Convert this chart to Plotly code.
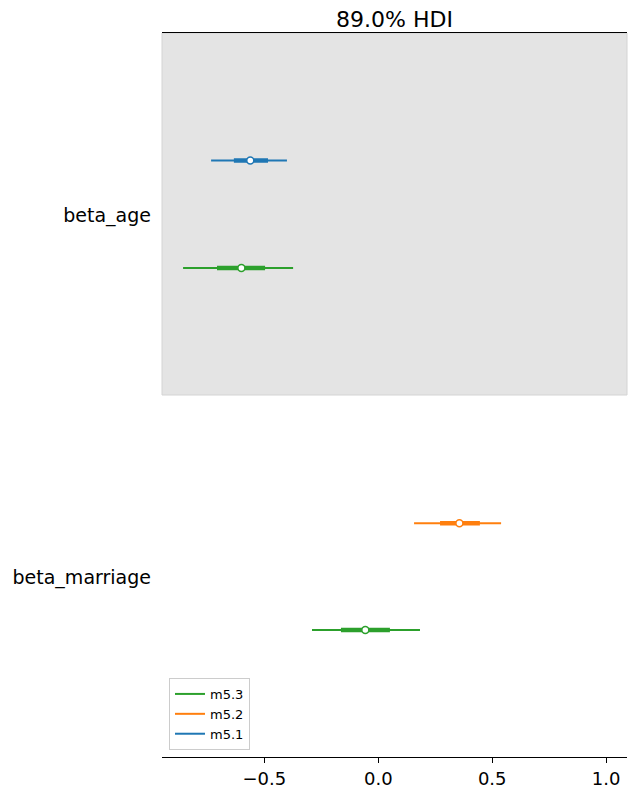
import plotly.graph_objects as go

# ---- data ----
variables = ["beta_age", "beta_marriage"]
models = ["m5.1", "m5.2", "m5.3"]
model_colors = {"m5.1": "#1f77b4", "m5.2": "#ff7f0e", "m5.3": "#2ca02c"}

# rows: (model, variable, row offset within variable group)
row_models = ["m5.1", "m5.3", "m5.2", "m5.3"]
row_vars = ["beta_age", "beta_age", "beta_marriage", "beta_marriage"]
row_offsets = [-0.148, 0.149, -0.146, 0.149]
hdi_low = [-0.734, -0.857, 0.157, -0.291]
hdi_high = [-0.401, -0.374, 0.539, 0.183]
iqr_low = [-0.634, -0.708, 0.271, -0.164]
iqr_high = [-0.484, -0.497, 0.446, 0.051]
point_est = [-0.562, -0.601, 0.356, -0.057]

xtick_vals = [-0.5, 0.0, 0.5, 1.0]
xtick_text = ["\u22120.5", "0.0", "0.5", "1.0"]

fig = go.Figure()

var_pos = {v: i for i, v in enumerate(variables)}

for m, v, off, lo, hi, qlo, qhi, pt in zip(row_models, row_vars, row_offsets,
                                          hdi_low, hdi_high, iqr_low, iqr_high, point_est):
    y = var_pos[v] + off
    c = model_colors[m]
    fig.add_trace(go.Scatter(x=[lo, hi], y=[y, y], mode="lines",
                             line=dict(color=c, width=2), showlegend=False, hoverinfo="skip"))
    fig.add_trace(go.Scatter(x=[qlo, qhi], y=[y, y], mode="lines",
                             line=dict(color=c, width=4.5), showlegend=False, hoverinfo="skip"))
    fig.add_trace(go.Scatter(x=[pt], y=[y], mode="markers",
                             marker=dict(color="white", size=7, line=dict(color=c, width=1.5)),
                             showlegend=False, hoverinfo="skip"))

# legend entries
for m in ["m5.3", "m5.2", "m5.1"]:
    fig.add_trace(go.Scatter(x=[None], y=[None], mode="lines", name=m,
                             line=dict(color=model_colors[m], width=2)))

# shaded band for first variable
fig.add_shape(type="rect", xref="paper", x0=0, x1=1, yref="y", y0=-0.5, y1=0.5,
              fillcolor="#e4e4e4", line=dict(color="#d4d4d4", width=1), layer="below")

fig.update_layout(
    width=636, height=796,
    margin=dict(l=162, r=9, t=33, b=39, autoexpand=False),
    paper_bgcolor="white", plot_bgcolor="white",
    font=dict(family="DejaVu Sans", color="black"),
    title=dict(text="89.0% HDI", x=(162 + 627) / 2 / 636, xanchor="center",
               y=1 - 19 / 796, yanchor="middle", font=dict(size=22, color="black")),
    legend=dict(x=0.015, y=0.0097, xanchor="left", yanchor="bottom",
                bordercolor="#cccccc", borderwidth=1, bgcolor="white",
                font=dict(size=13), traceorder="normal", tracegroupgap=0),
    showlegend=True,
)

fig.update_xaxes(range=[-0.9495, 1.0917], tickvals=xtick_vals, ticktext=xtick_text,
                 showgrid=False, zeroline=False, showline=True, mirror=True,
                 linecolor="black", linewidth=1.2, ticks="outside", ticklen=5,
                 tickcolor="black", tickwidth=1, tickfont=dict(size=18), automargin=False)
fig.update_yaxes(range=[1.5, -0.5], tickvals=[0.005, 1.005], ticktext=variables,
                 showgrid=False, zeroline=False, showline=False, ticks="",
                 ticklabelstandoff=10, tickfont=dict(size=19), automargin=False)

fig.write_html("out.html")
